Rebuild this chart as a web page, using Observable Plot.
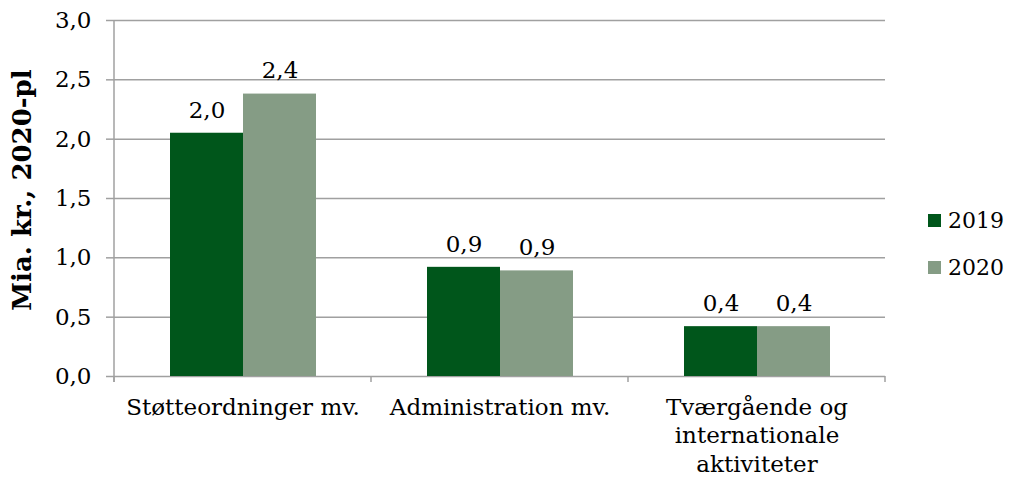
<!DOCTYPE html>
<html><head><meta charset="utf-8">
<script src="https://cdn.jsdelivr.net/npm/d3@7"></script>
<script src="https://cdn.jsdelivr.net/npm/@observablehq/plot@0.6"></script>
<style>
body{margin:0;background:#fff;}
#wrap{position:relative;width:1010px;height:478px;font-family:"DejaVu Serif",serif;color:#000;}
.lg{position:absolute;left:928px;display:flex;align-items:center;font-size:22px;}
.lg span.sw{display:inline-block;width:13px;height:13px;margin-right:7px;}
#ylab{position:absolute;left:22px;top:190px;transform:translate(-50%,-50%) rotate(-90deg);white-space:nowrap;font-weight:bold;font-size:26px;}
</style></head><body><div id="wrap"></div>
<script>
const categories = ["Støtteordninger mv.", "Administration mv.", "Tværgående og\ninternationale\naktiviteter"];
const years = ["2019", "2020"];
const values2019 = [2.05, 0.92, 0.42];
const values2020 = [2.38, 0.89, 0.42];
const labels2019 = ["2,0", "0,9", "0,4"];
const labels2020 = ["2,4", "0,9", "0,4"];
const yTicks = [0, 0.5, 1, 1.5, 2, 2.5, 3];
const yTitle = "Mia. kr., 2020-pl";
const colors = ["#00561b", "#859c85"];
const gridColor = "#a0a0a0";

const data = categories.flatMap((c, i) => [
  {cat: c, year: years[0], value: values2019[i], label: labels2019[i]},
  {cat: c, year: years[1], value: values2020[i], label: labels2020[i]}
]);
const fmt = d => d.toFixed(1).replace(".", ",");

const chart = Plot.plot({
  width: 1010, height: 478,
  marginLeft: 113, marginRight: 125, marginTop: 20, marginBottom: 102,
  style: {fontFamily: "DejaVu Serif", fontSize: "20px", color: "#000", background: "#fff"},
  fx: {domain: categories, padding: 0, label: null},
  x: {domain: years, paddingInner: 0, paddingOuter: 0.74, axis: null},
  y: {domain: [0, 3], label: null},
  color: {domain: years, range: colors},
  marks: [
    Plot.gridY(yTicks, {stroke: gridColor, strokeOpacity: 1, strokeWidth: 1.5}),
    Plot.axisY(yTicks, {tickSize: 8, stroke: gridColor, strokeWidth: 1.5, tickFormat: fmt, tickPadding: 15, fontSize: 23, label: null}),
    Plot.axisFx({anchor: "bottom", tickSize: 0, tickPadding: 19, lineHeight: 1.22, fontSize: 23, label: null}),
    Plot.barY(data, {fx: "cat", x: "year", y: "value", fill: "year"}),
    Plot.text(data, {fx: "cat", x: "year", y: "value", text: "label", dy: -23, fontSize: 23})
  ]
});

// axis line and category boundary ticks from the plot's own scales
const fx = chart.scale("fx"), ys = chart.scale("y");
const y0 = ys.apply(0), yTop = ys.apply(3);
const bounds = categories.map(c => fx.apply(c)).concat([fx.apply(categories[categories.length - 1]) + fx.bandwidth]);
const svg = d3.select(chart);
const g = svg.append("g").attr("stroke", gridColor).attr("stroke-width", 1.5);
g.append("line").attr("x1", bounds[0]).attr("x2", bounds[0]).attr("y1", yTop).attr("y2", y0 + 6);
bounds.forEach(b => g.append("line").attr("x1", b).attr("x2", b).attr("y1", y0).attr("y2", y0 + 6));

const wrap = document.getElementById("wrap");
wrap.appendChild(chart);
const yl = document.createElement("div"); yl.id = "ylab"; yl.textContent = yTitle; wrap.appendChild(yl);
years.forEach((yr, i) => {
  const d = document.createElement("div");
  d.className = "lg";
  d.style.top = (i === 0 ? 208 : 255) + "px";
  d.innerHTML = `<span class="sw" style="background:${colors[i]}"></span><span>${yr}</span>`;
  wrap.appendChild(d);
});
</script></body></html>
